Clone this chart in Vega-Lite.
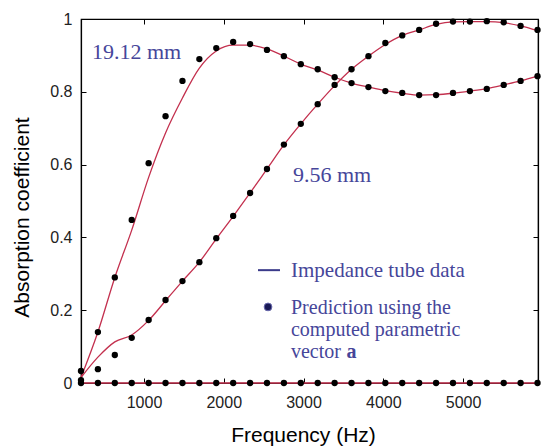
{
  "$schema": "https://vega.github.io/schema/vega-lite/v6.json",
  "width": 457,
  "height": 364,
  "autosize": {"type": "none"},
  "padding": {"left": 81, "top": 19, "right": 3, "bottom": 64},
  "background": "white",
  "config": {
    "view": {"stroke": "black", "strokeWidth": 1.2},
    "axis": {
      "grid": false,
      "domainColor": "black",
      "domainWidth": 1.2,
      "tickColor": "black",
      "tickSize": -5,
      "labelFont": "Liberation Sans",
      "labelFontSize": 16,
      "labelColor": "#222222",
      "titleFont": "Liberation Sans",
      "titleColor": "black",
      "titleFontWeight": "normal"
    }
  },
  "datasets": {
    "curves": [
      {"f": 210, "v": 0.033, "s": "A", "k": "point"},
      {"f": 422, "v": 0.14, "s": "A", "k": "point"},
      {"f": 634, "v": 0.29, "s": "A", "k": "point"},
      {"f": 846, "v": 0.448, "s": "A", "k": "point"},
      {"f": 1058, "v": 0.604, "s": "A", "k": "point"},
      {"f": 1270, "v": 0.733, "s": "A", "k": "point"},
      {"f": 1482, "v": 0.83, "s": "A", "k": "point"},
      {"f": 1694, "v": 0.89, "s": "A", "k": "point"},
      {"f": 1906, "v": 0.92, "s": "A", "k": "point"},
      {"f": 2118, "v": 0.937, "s": "A", "k": "point"},
      {"f": 2330, "v": 0.931, "s": "A", "k": "point"},
      {"f": 2542, "v": 0.915, "s": "A", "k": "point"},
      {"f": 2754, "v": 0.898, "s": "A", "k": "point"},
      {"f": 2966, "v": 0.876, "s": "A", "k": "point"},
      {"f": 3178, "v": 0.862, "s": "A", "k": "point"},
      {"f": 3390, "v": 0.84, "s": "A", "k": "point"},
      {"f": 3602, "v": 0.824, "s": "A", "k": "point"},
      {"f": 3814, "v": 0.813, "s": "A", "k": "point"},
      {"f": 4026, "v": 0.802, "s": "A", "k": "point"},
      {"f": 4238, "v": 0.797, "s": "A", "k": "point"},
      {"f": 4450, "v": 0.791, "s": "A", "k": "point"},
      {"f": 4662, "v": 0.791, "s": "A", "k": "point"},
      {"f": 4874, "v": 0.797, "s": "A", "k": "point"},
      {"f": 5086, "v": 0.802, "s": "A", "k": "point"},
      {"f": 5298, "v": 0.808, "s": "A", "k": "point"},
      {"f": 5510, "v": 0.819, "s": "A", "k": "point"},
      {"f": 5722, "v": 0.83, "s": "A", "k": "point"},
      {"f": 5934, "v": 0.843, "s": "A", "k": "point"},
      {"f": 210, "v": 0.008, "s": "B", "k": "point"},
      {"f": 422, "v": 0.038, "s": "B", "k": "point"},
      {"f": 634, "v": 0.077, "s": "B", "k": "point"},
      {"f": 846, "v": 0.124, "s": "B", "k": "point"},
      {"f": 1058, "v": 0.173, "s": "B", "k": "point"},
      {"f": 1270, "v": 0.228, "s": "B", "k": "point"},
      {"f": 1482, "v": 0.28, "s": "B", "k": "point"},
      {"f": 1694, "v": 0.332, "s": "B", "k": "point"},
      {"f": 1906, "v": 0.398, "s": "B", "k": "point"},
      {"f": 2118, "v": 0.459, "s": "B", "k": "point"},
      {"f": 2330, "v": 0.522, "s": "B", "k": "point"},
      {"f": 2542, "v": 0.588, "s": "B", "k": "point"},
      {"f": 2754, "v": 0.655, "s": "B", "k": "point"},
      {"f": 2966, "v": 0.712, "s": "B", "k": "point"},
      {"f": 3178, "v": 0.766, "s": "B", "k": "point"},
      {"f": 3390, "v": 0.819, "s": "B", "k": "point"},
      {"f": 3602, "v": 0.862, "s": "B", "k": "point"},
      {"f": 3814, "v": 0.898, "s": "B", "k": "point"},
      {"f": 4026, "v": 0.934, "s": "B", "k": "point"},
      {"f": 4238, "v": 0.955, "s": "B", "k": "point"},
      {"f": 4450, "v": 0.97, "s": "B", "k": "point"},
      {"f": 4662, "v": 0.987, "s": "B", "k": "point"},
      {"f": 4874, "v": 0.993, "s": "B", "k": "point"},
      {"f": 5086, "v": 0.993, "s": "B", "k": "point"},
      {"f": 5298, "v": 0.994, "s": "B", "k": "point"},
      {"f": 5510, "v": 0.991, "s": "B", "k": "point"},
      {"f": 5722, "v": 0.981, "s": "B", "k": "point"},
      {"f": 5934, "v": 0.97, "s": "B", "k": "point"},
      {"f": 210, "v": 0, "s": "Z", "k": "point"},
      {"f": 422, "v": 0, "s": "Z", "k": "point"},
      {"f": 634, "v": 0, "s": "Z", "k": "point"},
      {"f": 846, "v": 0, "s": "Z", "k": "point"},
      {"f": 1058, "v": 0, "s": "Z", "k": "point"},
      {"f": 1270, "v": 0, "s": "Z", "k": "point"},
      {"f": 1482, "v": 0, "s": "Z", "k": "point"},
      {"f": 1694, "v": 0, "s": "Z", "k": "point"},
      {"f": 1906, "v": 0, "s": "Z", "k": "point"},
      {"f": 2118, "v": 0, "s": "Z", "k": "point"},
      {"f": 2330, "v": 0, "s": "Z", "k": "point"},
      {"f": 2542, "v": 0, "s": "Z", "k": "point"},
      {"f": 2754, "v": 0, "s": "Z", "k": "point"},
      {"f": 2966, "v": 0, "s": "Z", "k": "point"},
      {"f": 3178, "v": 0, "s": "Z", "k": "point"},
      {"f": 3390, "v": 0, "s": "Z", "k": "point"},
      {"f": 3602, "v": 0, "s": "Z", "k": "point"},
      {"f": 3814, "v": 0, "s": "Z", "k": "point"},
      {"f": 4026, "v": 0, "s": "Z", "k": "point"},
      {"f": 4238, "v": 0, "s": "Z", "k": "point"},
      {"f": 4450, "v": 0, "s": "Z", "k": "point"},
      {"f": 4662, "v": 0, "s": "Z", "k": "point"},
      {"f": 4874, "v": 0, "s": "Z", "k": "point"},
      {"f": 5086, "v": 0, "s": "Z", "k": "point"},
      {"f": 5298, "v": 0, "s": "Z", "k": "point"},
      {"f": 5510, "v": 0, "s": "Z", "k": "point"},
      {"f": 5722, "v": 0, "s": "Z", "k": "point"},
      {"f": 5934, "v": 0, "s": "Z", "k": "point"},
      {"f": 210, "v": 0.015, "s": "A", "k": "line"},
      {"f": 422, "v": 0.14, "s": "A", "k": "line"},
      {"f": 634, "v": 0.29, "s": "A", "k": "line"},
      {"f": 846, "v": 0.42, "s": "A", "k": "line"},
      {"f": 1058, "v": 0.565, "s": "A", "k": "line"},
      {"f": 1270, "v": 0.687, "s": "A", "k": "line"},
      {"f": 1482, "v": 0.783, "s": "A", "k": "line"},
      {"f": 1694, "v": 0.865, "s": "A", "k": "line"},
      {"f": 1906, "v": 0.912, "s": "A", "k": "line"},
      {"f": 2118, "v": 0.928, "s": "A", "k": "line"},
      {"f": 2330, "v": 0.928, "s": "A", "k": "line"},
      {"f": 2542, "v": 0.918, "s": "A", "k": "line"},
      {"f": 2754, "v": 0.898, "s": "A", "k": "line"},
      {"f": 2966, "v": 0.876, "s": "A", "k": "line"},
      {"f": 3178, "v": 0.86, "s": "A", "k": "line"},
      {"f": 3390, "v": 0.84, "s": "A", "k": "line"},
      {"f": 3602, "v": 0.824, "s": "A", "k": "line"},
      {"f": 3814, "v": 0.813, "s": "A", "k": "line"},
      {"f": 4026, "v": 0.803, "s": "A", "k": "line"},
      {"f": 4238, "v": 0.796, "s": "A", "k": "line"},
      {"f": 4450, "v": 0.791, "s": "A", "k": "line"},
      {"f": 4662, "v": 0.792, "s": "A", "k": "line"},
      {"f": 4874, "v": 0.796, "s": "A", "k": "line"},
      {"f": 5086, "v": 0.802, "s": "A", "k": "line"},
      {"f": 5298, "v": 0.809, "s": "A", "k": "line"},
      {"f": 5510, "v": 0.819, "s": "A", "k": "line"},
      {"f": 5722, "v": 0.83, "s": "A", "k": "line"},
      {"f": 5934, "v": 0.843, "s": "A", "k": "line"},
      {"f": 210, "v": 0.015, "s": "B", "k": "line"},
      {"f": 422, "v": 0.071, "s": "B", "k": "line"},
      {"f": 634, "v": 0.113, "s": "B", "k": "line"},
      {"f": 846, "v": 0.132, "s": "B", "k": "line"},
      {"f": 1058, "v": 0.172, "s": "B", "k": "line"},
      {"f": 1270, "v": 0.226, "s": "B", "k": "line"},
      {"f": 1482, "v": 0.28, "s": "B", "k": "line"},
      {"f": 1694, "v": 0.332, "s": "B", "k": "line"},
      {"f": 1906, "v": 0.396, "s": "B", "k": "line"},
      {"f": 2118, "v": 0.458, "s": "B", "k": "line"},
      {"f": 2330, "v": 0.522, "s": "B", "k": "line"},
      {"f": 2542, "v": 0.588, "s": "B", "k": "line"},
      {"f": 2754, "v": 0.654, "s": "B", "k": "line"},
      {"f": 2966, "v": 0.712, "s": "B", "k": "line"},
      {"f": 3178, "v": 0.766, "s": "B", "k": "line"},
      {"f": 3390, "v": 0.817, "s": "B", "k": "line"},
      {"f": 3602, "v": 0.862, "s": "B", "k": "line"},
      {"f": 3814, "v": 0.898, "s": "B", "k": "line"},
      {"f": 4026, "v": 0.93, "s": "B", "k": "line"},
      {"f": 4238, "v": 0.955, "s": "B", "k": "line"},
      {"f": 4450, "v": 0.97, "s": "B", "k": "line"},
      {"f": 4662, "v": 0.985, "s": "B", "k": "line"},
      {"f": 4874, "v": 0.992, "s": "B", "k": "line"},
      {"f": 5086, "v": 0.993, "s": "B", "k": "line"},
      {"f": 5298, "v": 0.993, "s": "B", "k": "line"},
      {"f": 5510, "v": 0.99, "s": "B", "k": "line"},
      {"f": 5722, "v": 0.981, "s": "B", "k": "line"},
      {"f": 5934, "v": 0.968, "s": "B", "k": "line"},
      {"f": 210, "v": 0, "s": "Z", "k": "line"},
      {"f": 5940, "v": 0, "s": "Z", "k": "line"}
    ],
    "labels": [
      {"f": 348, "v": 0.89, "t": "19.12 mm", "z": 22},
      {"f": 2868, "v": 0.552, "t": "9.56 mm", "z": 22},
      {"f": 2843, "v": 0.291, "t": "Impedance tube data", "z": 21}
    ],
    "legtext": [
      {"f": 2843, "v": 0.19, "t": "Prediction using the"},
      {"f": 2843, "v": 0.1286, "t": "computed parametric"},
      {"f": 2843, "v": 0.0687, "t": "vector"}
    ],
    "bold": [{"f": 3540, "v": 0.0687, "t": "a"}],
    "legline": [{"f": 2429, "f2": 2705, "v": 0.31}],
    "legdot": [{"f": 2555, "v": 0.209}]
  },
  "layer": [
    {
      "data": {"name": "curves"},
      "transform": [{"filter": "datum.k == 'line'"}],
      "mark": {"type": "line", "color": "#c3304e", "strokeWidth": 1.3, "interpolate": "monotone"},
      "encoding": {
        "x": {
          "field": "f", "type": "quantitative",
          "scale": {"domain": [210, 5940], "nice": false, "zero": false},
          "axis": {
            "orient": "bottom",
            "values": [1000, 2000, 3000, 4000, 5000],
            "format": "d",
            "labelPadding": 16,
            "title": "Frequency (Hz)",
            "titleFontSize": 21,
            "titleX": 222,
            "titleY": 52,
            "titleAlign": "center",
            "titleBaseline": "middle"
          }
        },
        "y": {
          "field": "v", "type": "quantitative",
          "scale": {"domain": [0, 1], "nice": false},
          "axis": {
            "orient": "left",
            "values": [0, 0.2, 0.4, 0.6, 0.8, 1],
            "format": "~g",
            "labelPadding": 14,
            "title": "Absorption coefficient",
            "titleFontSize": 21,
            "titleAngle": -90,
            "titleX": -59,
            "titleY": 198,
            "titleAlign": "center",
            "titleBaseline": "middle"
          }
        },
        "detail": {"field": "s"}
      }
    },
    {
      "data": {"name": "curves"},
      "transform": [{"filter": "datum.k == 'point'"}],
      "mark": {"type": "point", "shape": "circle", "filled": true, "color": "black", "size": 40, "opacity": 1},
      "encoding": {
        "x": {
          "field": "f", "type": "quantitative",
          "axis": {"orient": "top", "values": [1000, 2000, 3000, 4000, 5000], "labels": false, "title": null}
        },
        "y": {
          "field": "v", "type": "quantitative",
          "axis": {"orient": "right", "values": [0, 0.2, 0.4, 0.6, 0.8, 1], "labels": false, "title": null}
        }
      }
    },
    {
      "data": {"name": "labels"},
      "mark": {"type": "text", "font": "Liberation Serif", "color": "#46469a", "align": "left", "baseline": "alphabetic"},
      "encoding": {
        "x": {"field": "f", "type": "quantitative", "axis": null},
        "y": {"field": "v", "type": "quantitative", "axis": null},
        "text": {"field": "t"},
        "size": {"field": "z", "type": "quantitative", "scale": null}
      }
    },
    {
      "data": {"name": "legtext"},
      "mark": {"type": "text", "font": "Liberation Serif", "fontSize": 20, "color": "#46469a", "align": "left", "baseline": "alphabetic"},
      "encoding": {
        "x": {"field": "f", "type": "quantitative", "axis": null},
        "y": {"field": "v", "type": "quantitative", "axis": null},
        "text": {"field": "t"}
      }
    },
    {
      "data": {"name": "bold"},
      "mark": {"type": "text", "font": "Liberation Serif", "fontSize": 20, "fontWeight": "bold", "color": "#46469a", "align": "left", "baseline": "alphabetic"},
      "encoding": {
        "x": {"field": "f", "type": "quantitative", "axis": null},
        "y": {"field": "v", "type": "quantitative", "axis": null},
        "text": {"field": "t"}
      }
    },
    {
      "data": {"name": "legline"},
      "mark": {"type": "rule", "color": "#3a3a8a", "strokeWidth": 2},
      "encoding": {
        "x": {"field": "f", "type": "quantitative", "axis": null},
        "x2": {"field": "f2"},
        "y": {"field": "v", "type": "quantitative", "axis": null}
      }
    },
    {
      "data": {"name": "legdot"},
      "mark": {"type": "point", "shape": "circle", "filled": true, "color": "#1a1a55", "size": 60, "opacity": 1, "stroke": "#6a6ab0", "strokeWidth": 1},
      "encoding": {
        "x": {"field": "f", "type": "quantitative", "axis": null},
        "y": {"field": "v", "type": "quantitative", "axis": null}
      }
    }
  ],
  "resolve": {"axis": {"x": "independent", "y": "independent"}}
}
